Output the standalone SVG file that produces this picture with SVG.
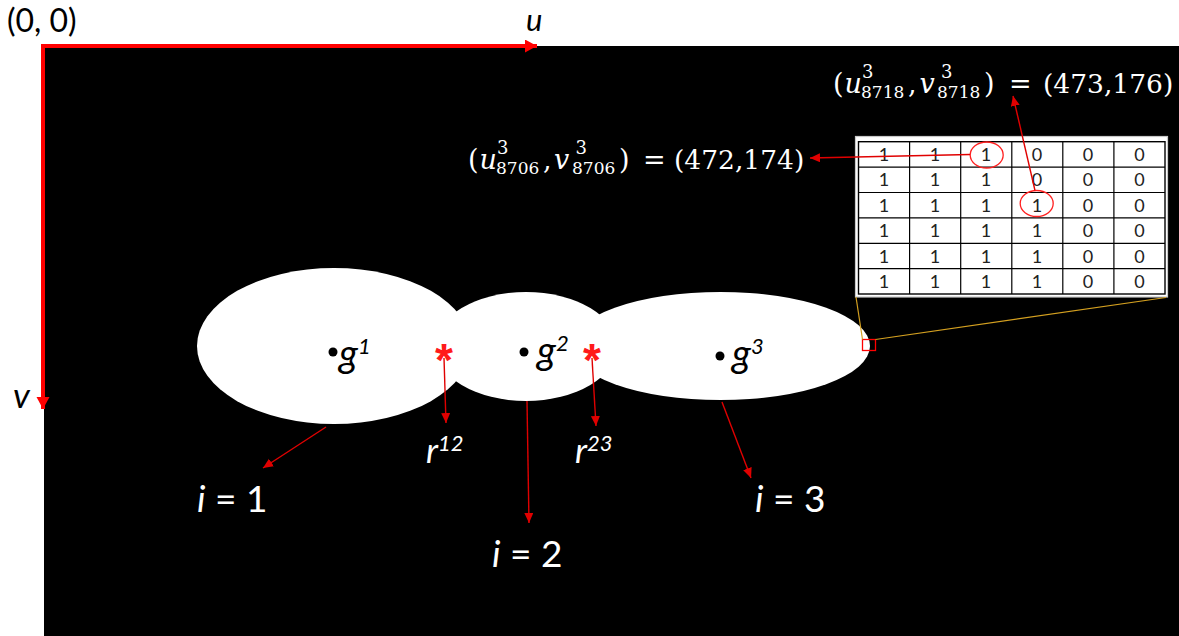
<svg xmlns="http://www.w3.org/2000/svg" width="1179" height="636" viewBox="0 0 1179 636">
<style>
.sans{font-family:Lato,"Liberation Sans",sans-serif}
.math{font-family:"DejaVu Serif","Liberation Serif",serif;fill:#fff}
.it{font-style:italic}
.wt{fill:#fff}
.bk{fill:#000}
.cell{font-family:Lato,"Liberation Sans",sans-serif;font-size:18px;fill:#222;text-anchor:middle}
.thin{stroke:#e00000;stroke-width:1.4;fill:none}
.ast{font-family:"Liberation Sans",sans-serif;font-size:46px;font-weight:bold;fill:#ff1a1a;text-anchor:middle}
</style>
<defs>
<marker id="ah" markerUnits="userSpaceOnUse" markerWidth="12" markerHeight="10" refX="10" refY="4.5" orient="auto">
<path d="M0,0 L10,4.5 L0,9 Z" fill="#e00000"/>
</marker>
<marker id="axh" markerUnits="userSpaceOnUse" markerWidth="14" markerHeight="14" refX="12" refY="6.5" orient="auto">
<path d="M0,0 L12,6.5 L0,13 Z" fill="#ff0000"/>
</marker>
</defs>
<rect width="1179" height="636" fill="#fff"/>
<rect x="44" y="46" width="1135" height="590" fill="#000"/>

<g id="axes">
<line x1="42" y1="46" x2="537" y2="46" stroke="#ff0000" stroke-width="4" marker-end="url(#axh)"/>
<line x1="43" y1="44" x2="43" y2="409" stroke="#ff0000" stroke-width="4" marker-end="url(#axh)"/>
<text class="sans" x="7" y="32" font-size="32" fill="#000">(0, 0)</text>
<text class="sans it" x="526" y="31" font-size="31" fill="#000">u</text>
<text class="sans it" x="13" y="408" font-size="35" fill="#000">v</text>
</g>

<g id="blobs" fill="#fff">
<ellipse cx="334" cy="346" rx="137" ry="78"/>
<ellipse cx="526" cy="346.5" rx="91" ry="54.5"/>
<ellipse cx="720.5" cy="346" rx="149.5" ry="54"/>
</g>

<g id="node-g1">
<circle cx="333" cy="352" r="4.5" fill="#000"/>
<text class="sans it bk" x="339" y="367" font-size="39">g<tspan font-size="22" dy="-13">1</tspan></text>
</g>
<g id="node-g2">
<circle cx="524" cy="352" r="4.5" fill="#000"/>
<text class="sans it bk" x="537" y="364" font-size="39">g<tspan font-size="22" dy="-13">2</tspan></text>
</g>
<g id="node-g3">
<circle cx="720" cy="356" r="4.5" fill="#000"/>
<text class="sans it bk" x="732" y="367" font-size="39">g<tspan font-size="22" dy="-13">3</tspan></text>
</g>

<g id="node-r12">
<text class="ast" x="444" y="376">*</text>
<text class="sans it wt" x="426" y="463" font-size="35">r<tspan font-size="22" dy="-12">12</tspan></text>
</g>
<g id="node-r23">
<text class="ast" x="592" y="376">*</text>
<text class="sans it wt" x="575" y="463" font-size="35">r<tspan font-size="22" dy="-12">23</tspan></text>
</g>

<g id="node-i1"><text class="sans wt" x="197" y="512" font-size="37"><tspan class="it">i</tspan> = 1</text></g>
<g id="node-i2"><text class="sans wt" x="492" y="567" font-size="37"><tspan class="it">i</tspan> = 2</text></g>
<g id="node-i3"><text class="sans wt" x="755" y="512" font-size="37"><tspan class="it">i</tspan> = 3</text></g>

<g id="node-table">
<rect x="855.5" y="136.5" width="312" height="160.5" fill="#fff" stroke="#c8c8c8" stroke-width="1.2"/>
<rect x="858.5" y="141.7" width="306.5" height="152.3" fill="#fff" stroke="#000" stroke-width="1.4"/>
<g stroke="#000" stroke-width="1.2">
<line x1="909.6" y1="141.7" x2="909.6" y2="294"/>
<line x1="960.7" y1="141.7" x2="960.7" y2="294"/>
<line x1="1011.8" y1="141.7" x2="1011.8" y2="294"/>
<line x1="1062.8" y1="141.7" x2="1062.8" y2="294"/>
<line x1="1113.9" y1="141.7" x2="1113.9" y2="294"/>
<line x1="858.5" y1="167.1" x2="1165" y2="167.1"/>
<line x1="858.5" y1="192.5" x2="1165" y2="192.5"/>
<line x1="858.5" y1="217.9" x2="1165" y2="217.9"/>
<line x1="858.5" y1="243.3" x2="1165" y2="243.3"/>
<line x1="858.5" y1="268.7" x2="1165" y2="268.7"/>
</g>
<g class="cell">
<text x="884" y="161">1</text><text x="935" y="161">1</text><text x="986" y="161">1</text><text x="1037" y="161">0</text><text x="1088" y="161">0</text><text x="1139.5" y="161">0</text>
<text x="884" y="186.4">1</text><text x="935" y="186.4">1</text><text x="986" y="186.4">1</text><text x="1037" y="186.4">0</text><text x="1088" y="186.4">0</text><text x="1139.5" y="186.4">0</text>
<text x="884" y="211.8">1</text><text x="935" y="211.8">1</text><text x="986" y="211.8">1</text><text x="1037" y="211.8">1</text><text x="1088" y="211.8">0</text><text x="1139.5" y="211.8">0</text>
<text x="884" y="237.2">1</text><text x="935" y="237.2">1</text><text x="986" y="237.2">1</text><text x="1037" y="237.2">1</text><text x="1088" y="237.2">0</text><text x="1139.5" y="237.2">0</text>
<text x="884" y="262.6">1</text><text x="935" y="262.6">1</text><text x="986" y="262.6">1</text><text x="1037" y="262.6">1</text><text x="1088" y="262.6">0</text><text x="1139.5" y="262.6">0</text>
<text x="884" y="288">1</text><text x="935" y="288">1</text><text x="986" y="288">1</text><text x="1037" y="288">1</text><text x="1088" y="288">0</text><text x="1139.5" y="288">0</text>
</g>
<ellipse cx="986.7" cy="155" rx="16.5" ry="13" fill="none" stroke="#ff2020" stroke-width="1.3"/>
<ellipse cx="1036.7" cy="203.5" rx="16.5" ry="13" fill="none" stroke="#ff2020" stroke-width="1.3"/>
</g>

<g id="node-zoombox">
<rect x="862.5" y="339.5" width="13" height="11" fill="none" stroke="#ff0000" stroke-width="1.3"/>
</g>

<g id="node-eq1" class="math" font-size="27">
<text x="833" y="93">(</text>
<text x="844.5" y="93" font-style="italic">u</text>
<text x="862" y="78" font-size="18">3</text>
<text x="861" y="98" font-size="17">8718</text>
<text x="908" y="93">,</text>
<text x="919.5" y="93" font-style="italic">v</text>
<text x="941" y="78" font-size="18">3</text>
<text x="937" y="98" font-size="17">8718</text>
<text x="984" y="93">)</text>
<text x="1009" y="93">=</text>
<text x="1043" y="93" font-size="26.5">(473,176)</text>
</g>
<g id="node-eq2" class="math" font-size="27">
<text x="468" y="169">(</text>
<text x="479.5" y="169" font-style="italic">u</text>
<text x="497" y="154" font-size="18">3</text>
<text x="496" y="174" font-size="17">8706</text>
<text x="543" y="169">,</text>
<text x="554" y="169" font-style="italic">v</text>
<text x="575.5" y="154" font-size="18">3</text>
<text x="572" y="174" font-size="17">8706</text>
<text x="619" y="169">)</text>
<text x="643" y="169">=</text>
<text x="674" y="169" font-size="26.5">(472,174)</text>
</g>

<g id="connectors">
<line class="thin" x1="444" y1="358" x2="446" y2="423" marker-end="url(#ah)"/>
<line class="thin" x1="592" y1="358" x2="596" y2="426" marker-end="url(#ah)"/>
<line class="thin" x1="326" y1="427" x2="263" y2="468" stroke="#d00000" marker-end="url(#ah)"/>
<line class="thin" x1="527" y1="401" x2="529" y2="523" stroke="#d00000" marker-end="url(#ah)"/>
<line class="thin" x1="722" y1="402" x2="751" y2="478" stroke="#d00000" marker-end="url(#ah)"/>
<line class="thin" x1="970" y1="154.5" x2="810" y2="158" marker-end="url(#ah)"/>
<line class="thin" x1="1035" y1="190.5" x2="1013" y2="96" marker-end="url(#ah)"/>
<line x1="856" y1="297" x2="862.5" y2="339.5" stroke="#d4a020" stroke-width="1.2"/>
<line x1="875.5" y1="339.5" x2="1166" y2="297.5" stroke="#d4a020" stroke-width="1.2"/>
</g>
</svg>
